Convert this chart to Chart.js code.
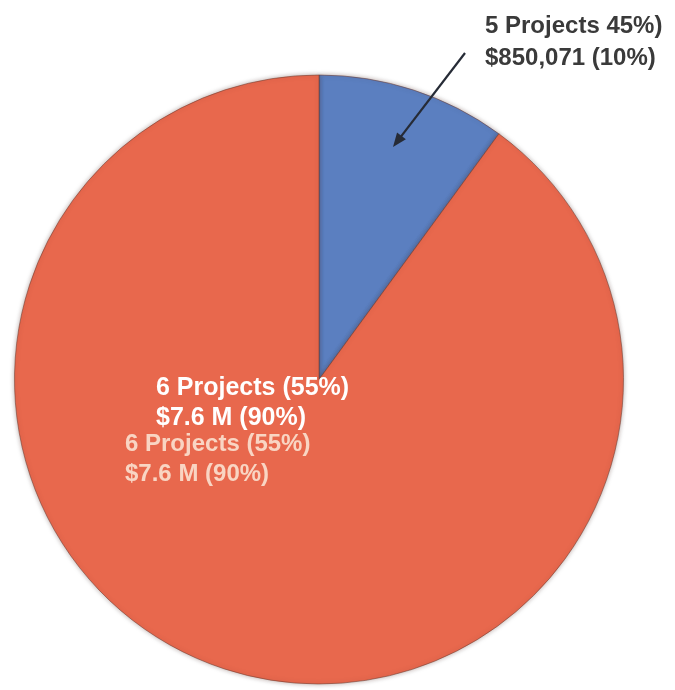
<!DOCTYPE html>
<html>
<head>
<meta charset="utf-8">
<script src="https://cdn.jsdelivr.net/npm/chart.js@4/dist/chart.umd.min.js"></script>
<style>
  html, body { margin: 0; padding: 0; background: #fff; }
  #wrap { width: 675px; height: 690px; }
</style>
</head>
<body>
<div id="wrap"><canvas id="pie" width="675" height="690"></canvas></div>
<script>
// project groups: blue slice first (clockwise from 12 o'clock), then orange
const groups = ["small", "large"];
const projectCounts = [5, 6];
const fundingValues = [850071, 7600000];
const fundingText = ["$850,071", "$7.6 M"];
const sliceColors = ["#5b7fc0", "#e8684d"];

const totalProjects = projectCounts.reduce((a, b) => a + b, 0);
const totalFunding = fundingValues.reduce((a, b) => a + b, 0);

function pct(v, total) {
  return Math.round((v / total) * 100);
}

// text overlay + arrow for the two slices
const labelPlugin = {
  id: "sliceLabels",
  beforeDatasetsDraw(chart) {
    const ctx = chart.ctx;
    ctx.save();
    ctx.shadowColor = "rgba(60,30,20,0.35)";
    ctx.shadowBlur = 5;
  },
  afterDatasetsDraw(chart) {
    const ctx = chart.ctx;
    ctx.restore();
    ctx.save();

    const p0 = pct(projectCounts[0], totalProjects);
    const p1 = pct(projectCounts[1], totalProjects);
    const f0 = pct(fundingValues[0], totalFunding);
    const f1 = pct(fundingValues[1], totalFunding);

    const font = (size) => "bold " + size + "px 'Liberation Sans', Arial, sans-serif";
    ctx.textBaseline = "alphabetic";
    ctx.textAlign = "left";

    // small group callout (top right)
    ctx.fillStyle = "#3a3a3a";
    ctx.font = font(24);
    ctx.fillText(projectCounts[0] + " Projects " + p0 + "%)", 485, 33);
    ctx.fillText(fundingText[0] + " (" + f0 + "%)", 485, 65);

    // arrow pointing into the blue slice
    const x1 = 465, y1 = 53, x2 = 393, y2 = 147;
    const ang = Math.atan2(y2 - y1, x2 - x1);
    ctx.strokeStyle = "#262b36";
    ctx.fillStyle = "#262b36";
    ctx.lineWidth = 2.2;
    ctx.beginPath();
    ctx.moveTo(x1, y1);
    ctx.lineTo(x2 - 8 * Math.cos(ang), y2 - 8 * Math.sin(ang));
    ctx.stroke();
    ctx.beginPath();
    ctx.moveTo(x2, y2);
    ctx.lineTo(x2 - 15 * Math.cos(ang - 0.38), y2 - 15 * Math.sin(ang - 0.38));
    ctx.lineTo(x2 - 15 * Math.cos(ang + 0.38), y2 - 15 * Math.sin(ang + 0.38));
    ctx.closePath();
    ctx.fill();

    // large group, faded copy underneath
    ctx.filter = "blur(0.7px)";
    ctx.fillStyle = "rgba(250,222,205,0.92)";
    ctx.font = font(24);
    ctx.fillText(projectCounts[1] + " Projects (" + p1 + "%)", 125, 451);
    ctx.fillText(fundingText[1] + " (" + f1 + "%)", 125, 481);
    ctx.filter = "none";

    // large group label in white
    ctx.fillStyle = "#ffffff";
    ctx.font = font(25);
    ctx.fillText(projectCounts[1] + " Projects (" + p1 + "%)", 156, 395);
    ctx.fillText(fundingText[1] + " (" + f1 + "%)", 156, 425);

    ctx.restore();
  }
};

new Chart(document.getElementById("pie"), {
  type: "pie",
  data: {
    labels: groups,
    datasets: [
      {
        data: fundingValues,
        backgroundColor: sliceColors,
        borderColor: "rgba(110,60,50,0.55)",
        borderWidth: 1
      }
    ]
  },
  options: {
    responsive: false,
    animation: false,
    layout: { padding: { left: 14, right: 51, top: 74, bottom: 5 } },
    plugins: {
      legend: { display: false },
      tooltip: { enabled: false }
    }
  },
  plugins: [labelPlugin]
});
</script>
</body>
</html>
